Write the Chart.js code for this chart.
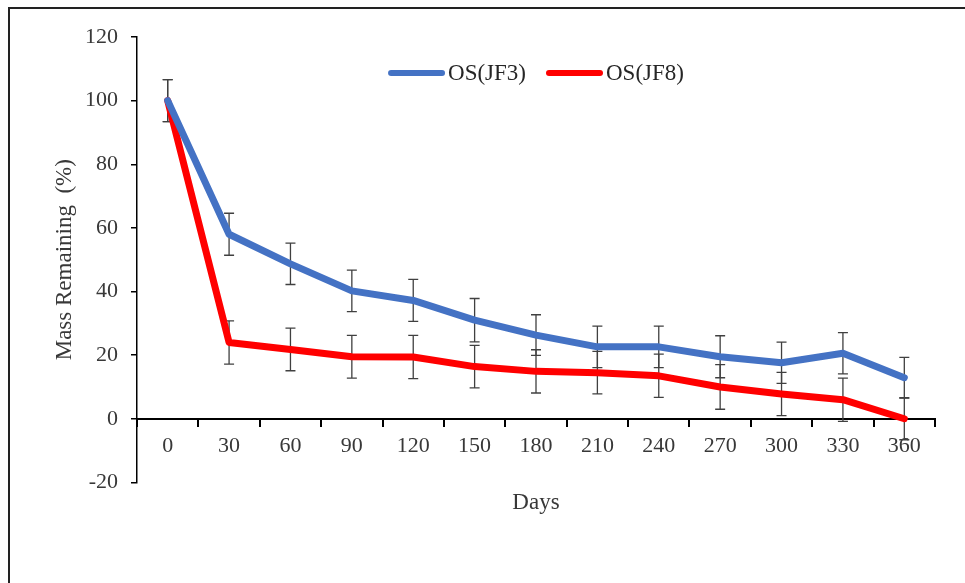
<!DOCTYPE html>
<html>
<head>
<meta charset="utf-8">
<script src="https://cdn.jsdelivr.net/npm/chart.js@4.4.1/dist/chart.umd.min.js"></script>
<style>
body{margin:0;background:#fff;}
#frame{position:absolute;left:8px;top:7px;width:957px;height:576px;border-top:2px solid #222;border-left:2px solid #222;}
#wrap{position:absolute;left:0;top:0;width:965px;height:583px;}
</style>
</head>
<body>
<div id="frame"></div>
<div id="wrap"><canvas id="chart-section" width="965" height="583"></canvas></div>
<script>
var days = ['0','30','60','90','120','150','180','210','240','270','300','330','360'];
var jf3 = [100, 58, 48.7, 40.2, 37.2, 31, 26.3, 22.6, 22.6, 19.5, 17.6, 20.6, 12.9];
var jf8 = [100, 24, 21.8, 19.5, 19.4, 16.4, 14.9, 14.5, 13.5, 10, 7.8, 6, 0];
var jf3Err = [6.6, 6.6, 6.5, 6.5, 6.6, 6.8, 6.4, 6.5, 6.5, 6.6, 6.5, 6.5, 6.4];
var jf8Err = [6.6, 6.8, 6.7, 6.7, 6.8, 6.7, 6.8, 6.7, 6.8, 7, 6.8, 6.8, 6.6];
var yTicks = [-20, 0, 20, 40, 60, 80, 100, 120];

var serif = 'Liberation Serif';
var textCol = '#383838';

// error bars behind the lines
var errorBars = {
	id: 'errorBars',
	beforeDatasetsDraw: function(chart){
		var ctx = chart.ctx, x = chart.scales.x, y = chart.scales.y;
		var errs = [jf3Err, jf8Err];
		ctx.save();
		ctx.strokeStyle = '#404040';
		ctx.lineWidth = 1.3;
		chart.data.datasets.forEach(function(ds, d){
			ds.data.forEach(function(v, i){
				var px = x.getPixelForValue(i);
				var top = y.getPixelForValue(v + errs[d][i]);
				var bot = y.getPixelForValue(v - errs[d][i]);
				ctx.beginPath();
				ctx.moveTo(px, top); ctx.lineTo(px, bot);
				ctx.moveTo(px - 5, top); ctx.lineTo(px + 5, top);
				ctx.moveTo(px - 5, bot); ctx.lineTo(px + 5, bot);
				ctx.stroke();
			});
		});
		ctx.restore();
	}
};

// legend sits inside the plot area
var innerLegend = {
	id: 'innerLegend',
	afterDraw: function(chart){
		var ctx = chart.ctx, area = chart.chartArea;
		ctx.save();
		ctx.font = '23px "' + serif + '"';
		var lineW = 57, gap = 3, space = 20;
		var items = chart.data.datasets.map(function(ds){
			return {label: ds.label, color: ds.borderColor, w: lineW + gap + ctx.measureText(ds.label).width};
		});
		var total = items[0].w + space + items[1].w;
		var x = (area.left + area.right) / 2 - total / 2;
		var cy = area.top + 36;
		items.forEach(function(it){
			ctx.strokeStyle = it.color;
			ctx.lineWidth = 6;
			ctx.lineCap = 'round';
			ctx.beginPath();
			ctx.moveTo(x + 3, cy); ctx.lineTo(x + lineW - 3, cy);
			ctx.stroke();
			ctx.fillStyle = '#262626';
			ctx.textBaseline = 'middle';
			ctx.fillText(it.label, x + lineW + gap, cy + 1);
			x += it.w + space;
		});
		ctx.restore();
	}
};

var canvas = document.getElementById('chart-section').getContext('2d');
window.lineal = new Chart(canvas, {
	type: 'line',
	data: {
		labels: days,
		datasets: [{
			label: 'OS(JF3)',
			data: jf3,
			borderColor: '#4472C4',
			borderWidth: 7,
			pointRadius: 0,
			tension: 0,
			borderJoinStyle: 'round',
			borderCapStyle: 'round',
			clip: false
		}, {
			label: 'OS(JF8)',
			data: jf8,
			borderColor: '#FF0000',
			borderWidth: 7,
			pointRadius: 0,
			tension: 0,
			borderJoinStyle: 'round',
			borderCapStyle: 'round',
			clip: false
		}]
	},
	options: {
		responsive: false,
		animation: false,
		devicePixelRatio: 1,
		layout: {padding: {left: 40, right: 30, top: 37, bottom: 56}},
		plugins: {
			legend: {display: false},
			tooltip: {enabled: false},
			title: {
				display: true,
				position: 'bottom',
				fullSize: false,
				text: 'Days',
				color: textCol,
				font: {family: serif, size: 23, weight: 'normal'},
				padding: {top: 7, bottom: 10}
			}
		},
		scales: {
			x: {
				type: 'category',
				position: {y: 0},
				offset: true,
				afterFit: function(s){ s.height = 0; },
				grid: {offset: true, drawOnChartArea: false, drawTicks: true, tickLength: 7, color: '#000', lineWidth: 2},
				border: {color: '#000', width: 2},
				ticks: {color: textCol, padding: 7, maxRotation: 0, autoSkip: false, font: {family: serif, size: 22}}
			},
			y: {
				min: -20,
				max: 120,
				afterFit: function(s){ s.width = 97; },
				afterBuildTicks: function(s){ s.ticks = yTicks.map(function(v){ return {value: v}; }); },
				grid: {drawOnChartArea: false, drawTicks: true, tickLength: 6, color: '#000', lineWidth: 1.5},
				border: {color: '#000', width: 1.5},
				ticks: {color: textCol, padding: 13, font: {family: serif, size: 22}},
				title: {
					display: true,
					text: 'Mass Remaining  (%)',
					color: textCol,
					font: {family: serif, size: 23},
					padding: {top: 11, bottom: 0}
				}
			}
		}
	},
	plugins: [errorBars, innerLegend]
});
</script>
</body>
</html>
